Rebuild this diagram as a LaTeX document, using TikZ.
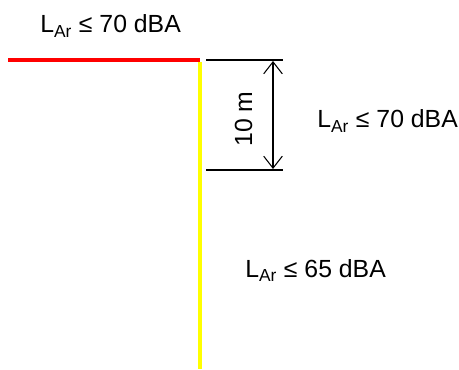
\documentclass[tikz,border=0pt]{standalone}
\usepackage{fontspec}
\setmainfont{Liberation Sans}
\usetikzlibrary{arrows.meta,positioning}
\definecolor{limitred}{RGB}{255,0,0}
\definecolor{limityellow}{RGB}{255,255,0}

\begin{document}
\begin{tikzpicture}[
  x=0.75pt, y=-0.75pt,
  level/.style={font=\fontsize{18.6}{22}\selectfont, inner sep=0pt, anchor=base west},
  facade/.style={line width=2.3pt},
  tick/.style={line width=0.8pt},
  dimline/.style={{Straight Barb[length=9pt,width=14pt]}-{Straight Barb[length=9pt,width=14pt]}, line width=0.8pt}
]
  \useasboundingbox (0,0) rectangle (459,370);
  % facade outline
  \coordinate (left) at (8,60);
  \coordinate (corner) at (200,60);
  \coordinate (foot) at (200,369);
  \draw[facade, limitred] (left) -- (corner);
  \draw[facade, limityellow] ([yshift=-1.5]corner) -- (foot);
  % 10 m dimension
  \coordinate (topa) at (206,60);
  \coordinate (topb) at (283,60);
  \coordinate (bota) at (206,170);
  \coordinate (botb) at (283,170);
  \coordinate (dimtop) at (273,61);
  \coordinate (dimbot) at (273,169);
  \draw[tick] (topa) -- (topb);
  \draw[tick] (bota) -- (botb);
  \draw[dimline] (dimtop) -- (dimbot);
  \node[level, rotate=90] (dist) at (252,147) {10 m};
  % limits
  \node[level] (roof) at (40,33) {L\textsubscript{Ar} ≤ 70 dBA};
  \node[level] (upper) at (317,128) {L\textsubscript{Ar} ≤ 70 dBA};
  \node[level] (lower) at (245,277) {L\textsubscript{Ar} ≤ 65 dBA};
\end{tikzpicture}
\end{document}
